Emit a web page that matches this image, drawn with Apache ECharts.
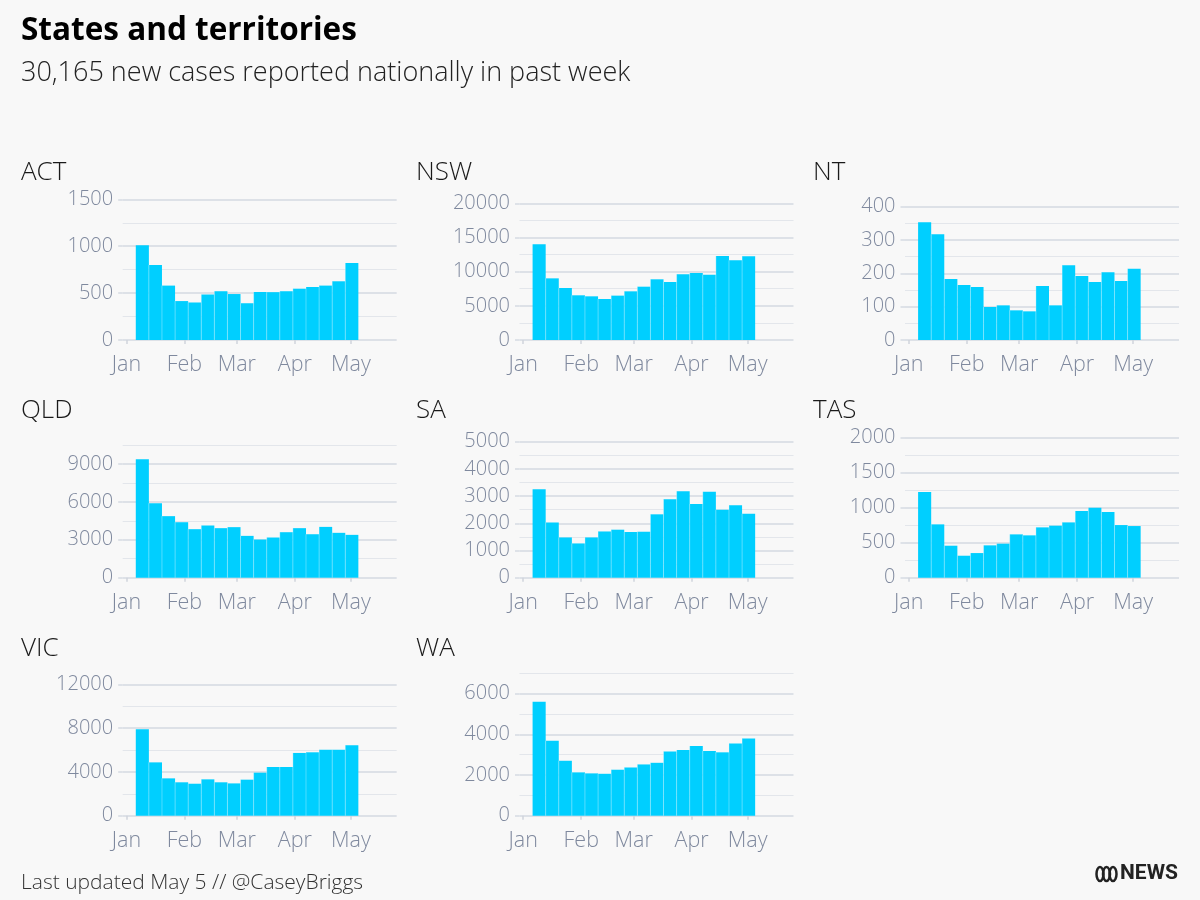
<!DOCTYPE html>
<html lang="en">
<head>
<meta charset="utf-8">
<title>States and territories</title>
<script src="https://cdn.jsdelivr.net/npm/echarts@6/dist/echarts.min.js"></script>
<style>
  html, body { margin: 0; padding: 0; background: #f8f8f8; }
  #main { width: 1200px; height: 900px; }
</style>
</head>
<body>
<div id="main"></div>
<script>
// weekly new cases, 17 weeks starting Thu 6 Jan 2022
var weekStarts = ['2022-01-06', '2022-01-13', '2022-01-20', '2022-01-27', '2022-02-03', '2022-02-10',
  '2022-02-17', '2022-02-24', '2022-03-03', '2022-03-10', '2022-03-17', '2022-03-24', '2022-03-31',
  '2022-04-07', '2022-04-14', '2022-04-21', '2022-04-28'];
var monthTicks = ['2022-01-01', '2022-02-01', '2022-03-01', '2022-04-01', '2022-05-01'];
var monthLabels = ['Jan', 'Feb', 'Mar', 'Apr', 'May'];

var actCases = [1010, 800, 580, 415, 400, 485, 520, 490, 392, 512, 510, 520, 547, 565, 580, 626, 820];
var nswCases = [14000, 9020, 7610, 6540, 6390, 6000, 6490, 7120, 7800, 8880, 8490, 9610, 9800, 9560, 12290, 11660, 12240];
var ntCases = [353, 317, 183, 165, 159, 99, 104, 89, 86, 162, 104, 224, 192, 174, 203, 177, 214];
var qldCases = [9370, 5900, 4870, 4390, 3840, 4130, 3920, 4000, 3310, 3020, 3180, 3600, 3920, 3440, 4020, 3550, 3390];
var saCases = [3250, 2030, 1480, 1260, 1480, 1700, 1765, 1680, 1690, 2330, 2880, 3175, 2710, 3160, 2500, 2660, 2350];
var tasCases = [1224, 762, 457, 314, 352, 462, 486, 619, 605, 719, 743, 790, 952, 1000, 938, 752, 738];
var vicCases = [7890, 4870, 3410, 3050, 2920, 3320, 3050, 2950, 3290, 3930, 4450, 4450, 5730, 5790, 6030, 6030, 6430];
var waCases = [5600, 3680, 2700, 2130, 2080, 2060, 2260, 2370, 2520, 2600, 3150, 3230, 3430, 3180, 3115, 3545, 3790];

// panel layout: name, data, y max, labelled step, gridline step, column, row, plot top
var panels = [
  { name: 'ACT', data: actCases, max: 1500, major: 500, minor: 250, col: 0, row: 0, top: 199.3 },
  { name: 'NSW', data: nswCases, max: 20000, major: 5000, minor: 2500, col: 1, row: 0, top: 203.3 },
  { name: 'NT', data: ntCases, max: 400, major: 100, minor: 50, col: 2, row: 0, top: 206.7 },
  { name: 'QLD', data: qldCases, max: 10500, major: 3000, minor: 1500, col: 0, row: 1, top: 445 },
  { name: 'SA', data: saCases, max: 5000, major: 1000, minor: 500, col: 1, row: 1, top: 441.7 },
  { name: 'TAS', data: tasCases, max: 2000, major: 500, minor: 250, col: 2, row: 1, top: 437.7 },
  { name: 'VIC', data: vicCases, max: 12000, major: 4000, minor: 2000, col: 0, row: 2, top: 684.3 },
  { name: 'WA', data: waCases, max: 7000, major: 2000, minor: 1000, col: 1, row: 2, top: 673.3 }
];

var colLeft = [122.7, 519.5, 905];
var colLabelX = [21, 416, 813];
var rowBase = [340, 577.7, 815.7];
var rowLabelY = [173, 411, 649];
var plotWidth = 274;

var DAY = 86400000;
function ts(s) { return new Date(s + 'T00:00:00').getTime(); }
var xMin = ts('2021-12-30');
var xMax = ts('2022-05-25') + DAY / 2;
var monthValues = monthTicks.map(ts);

var labelFont = 'Open Sans';
var axisColor = '#7f899e';
var majorLine = '#d5dae2';
var minorLine = '#e3e6eb';
var barColor = '#00cfff';

var grids = [], xAxes = [], yAxes = [], series = [], graphics = [];

panels.forEach(function (p, i) {
  var base = rowBase[p.row];
  grids.push({ left: colLeft[p.col], top: p.top, width: plotWidth, height: base - p.top });

  // dates as a numeric axis so ticks can sit exactly on month starts
  xAxes.push({
    type: 'value', gridIndex: i, min: xMin, max: xMax, offset: 7,
    axisLine: { show: false },
    axisTick: { show: true, length: 4, customValues: monthValues,
      lineStyle: { color: '#cfd4dc', width: 1.5 } },
    axisLabel: { customValues: monthValues, margin: 7, color: axisColor,
      fontFamily: labelFont, fontWeight: 300, fontSize: 21.5,
      formatter: function (v) { return monthLabels[monthValues.indexOf(v)] || ''; } },
    splitLine: { show: false }
  });

  // minor gridlines (skip positions covered by major lines)
  var minorColors = [];
  for (var v = 0; v <= p.max + 1e-9; v += p.minor) {
    minorColors.push(v % p.major === 0 ? 'rgba(0,0,0,0)' : minorLine);
  }
  yAxes.push({
    type: 'value', gridIndex: i, position: 'left', min: 0, max: p.max, interval: p.minor,
    axisLine: { show: false }, axisTick: { show: false }, axisLabel: { show: false },
    splitLine: { lineStyle: { color: minorColors, width: 1 } }
  });

  // major gridlines, ticks and labels
  var majors = [];
  for (var m = 0; m <= p.max; m += p.major) majors.push(m);
  var majorColors = majors.map(function () { return majorLine; });
  if (p.max % p.major !== 0) majorColors.push('rgba(0,0,0,0)');
  yAxes.push({
    type: 'value', gridIndex: i, position: 'left', min: 0, max: p.max, interval: p.major,
    axisLine: { show: false },
    axisTick: { show: true, length: 4.5, customValues: majors, lineStyle: { color: majorLine, width: 1.5 } },
    axisLabel: { customValues: majors, margin: 9.5, color: axisColor,
      fontFamily: labelFont, fontWeight: 300, fontSize: 20,
      formatter: function (v) { return String(v); } },
    splitLine: { lineStyle: { color: majorColors, width: 1.5 } }
  });

  series.push({
    type: 'custom', xAxisIndex: i, yAxisIndex: 2 * i, silent: true,
    encode: { x: [0, 1], y: 2 },
    data: weekStarts.map(function (w, k) { return [ts(w), ts(w) + 7 * DAY, p.data[k]]; }),
    renderItem: function (params, api) {
      var a = api.coord([api.value(0), api.value(2)]);
      var b = api.coord([api.value(1), 0]);
      var children = [{
        type: 'rect',
        shape: { x: a[0], y: a[1], width: b[0] - a[0], height: b[1] - a[1] },
        style: { fill: barColor }
      }];
      if (params.dataIndex > 0) {
        children.push({
          type: 'line',
          shape: { x1: a[0], y1: a[1], x2: a[0], y2: b[1] },
          style: { stroke: 'rgba(255,255,255,0.3)', lineWidth: 1 }
        });
      }
      return { type: 'group', children: children };
    }
  });

  graphics.push({
    type: 'text', x: colLabelX[p.col], y: rowLabelY[p.row],
    style: { text: p.name, fill: '#1a1a1a', fontFamily: labelFont, fontWeight: 300, fontSize: 26, verticalAlign: 'middle' }
  });
});

graphics.push(
  { type: 'text', x: 21, y: 31, style: { text: 'States and territories', fill: '#000',
    fontFamily: labelFont, fontWeight: 'bold', fontSize: 31.5, verticalAlign: 'middle' } },
  { type: 'text', x: 21, y: 73, style: { text: '30,165 new cases reported nationally in past week', fill: '#222',
    fontFamily: labelFont, fontWeight: 300, fontSize: 27, verticalAlign: 'middle' } },
  { type: 'text', x: 21, y: 883, style: { text: 'Last updated May 5 // @CaseyBriggs', fill: '#333',
    fontFamily: labelFont, fontWeight: 300, fontSize: 21, verticalAlign: 'middle' } },
  // ABC NEWS mark
  { type: 'ellipse', shape: { cx: 1100, cy: 874, rx: 3.5, ry: 7 }, style: { fill: 'none', stroke: '#222', lineWidth: 2.5 } },
  { type: 'ellipse', shape: { cx: 1106.5, cy: 874, rx: 3.5, ry: 7 }, style: { fill: 'none', stroke: '#222', lineWidth: 2.5 } },
  { type: 'ellipse', shape: { cx: 1113, cy: 874, rx: 3.5, ry: 7 }, style: { fill: 'none', stroke: '#222', lineWidth: 2.5 } },
  { type: 'text', x: 1120, y: 874, style: { text: 'NEWS', fill: '#222', fontFamily: 'Roboto', fontWeight: 'bold',
    fontSize: 21, verticalAlign: 'middle' } }
);

var chart = echarts.init(document.getElementById('main'), null, { renderer: 'canvas' });
chart.setOption({
  backgroundColor: '#f8f8f8',
  animation: false,
  grid: grids,
  xAxis: xAxes,
  yAxis: yAxes,
  series: series,
  graphic: graphics
});
</script>
</body>
</html>
